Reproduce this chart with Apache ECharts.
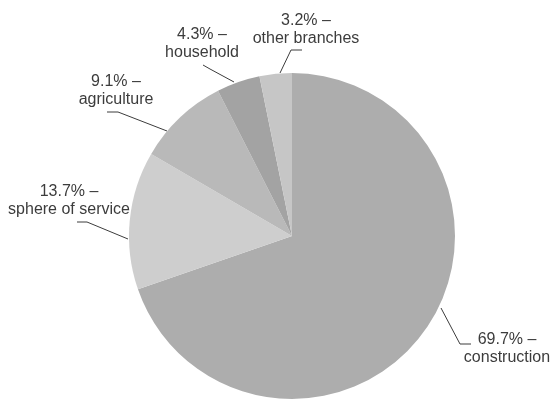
<!DOCTYPE html>
<html>
<head>
<meta charset="utf-8">
<script src="https://cdn.jsdelivr.net/npm/echarts@6/dist/echarts.min.js"></script>
<style>
  html, body { margin: 0; padding: 0; background: #fff; }
  #chart { width: 552px; height: 400px; }
</style>
</head>
<body>
<div id="chart"></div>
<script>
// data, clockwise from 12 o'clock
const categories = ['construction', 'sphere of service', 'agriculture', 'household', 'other branches'];
const shares = [69.7, 13.7, 9.1, 4.3, 3.2];

// slice greys
const sliceColors = ['#adadad', '#cecece', '#b9b9b9', '#a3a3a3', '#c6c6c6'];

// where each label sits and how its leader line bends
const labelSpots = [
    { x: 507, y: 349, line: [[441, 308], [460, 344], [471, 344]] },
    { x: 69, y: 201, line: [[128, 239], [87, 222], [77, 222]] },
    { x: 116, y: 91, line: [[167, 131], [118, 112], [107, 112]] },
    { x: 202, y: 44, line: [[234, 82], [210, 69], [203, 65]] },
    { x: 306, y: 30, line: [[280, 73], [291, 50], [302, 50]] }
];

const myChart = echarts.init(document.getElementById('chart'));

const option = {
    animation: false,
    series: [
        {
            type: 'pie',
            center: [292, 236],
            radius: 163,
            startAngle: 90,
            clockwise: true,
            silent: true,
            data: categories.map((name, i) => ({
                name: name,
                value: shares[i],
                itemStyle: { color: sliceColors[i] }
            })),
            label: {
                show: true,
                position: 'outside',
                formatter: p => p.value + '% –\n' + p.name,
                fontFamily: 'Liberation Sans, Arial, sans-serif',
                fontSize: 16,
                lineHeight: 18,
                color: '#3c3c3c',
                align: 'center',
                overflow: 'none',
                width: 160
            },
            labelLine: {
                show: true,
                lineStyle: { color: '#3c3c3c', width: 1 }
            },
            labelLayout: params => {
                const s = labelSpots[params.dataIndex];
                return {
                    x: s.x,
                    y: s.y,
                    align: 'center',
                    verticalAlign: 'middle',
                    labelLinePoints: s.line
                };
            }
        }
    ]
};

myChart.setOption(option);
</script>
</body>
</html>
